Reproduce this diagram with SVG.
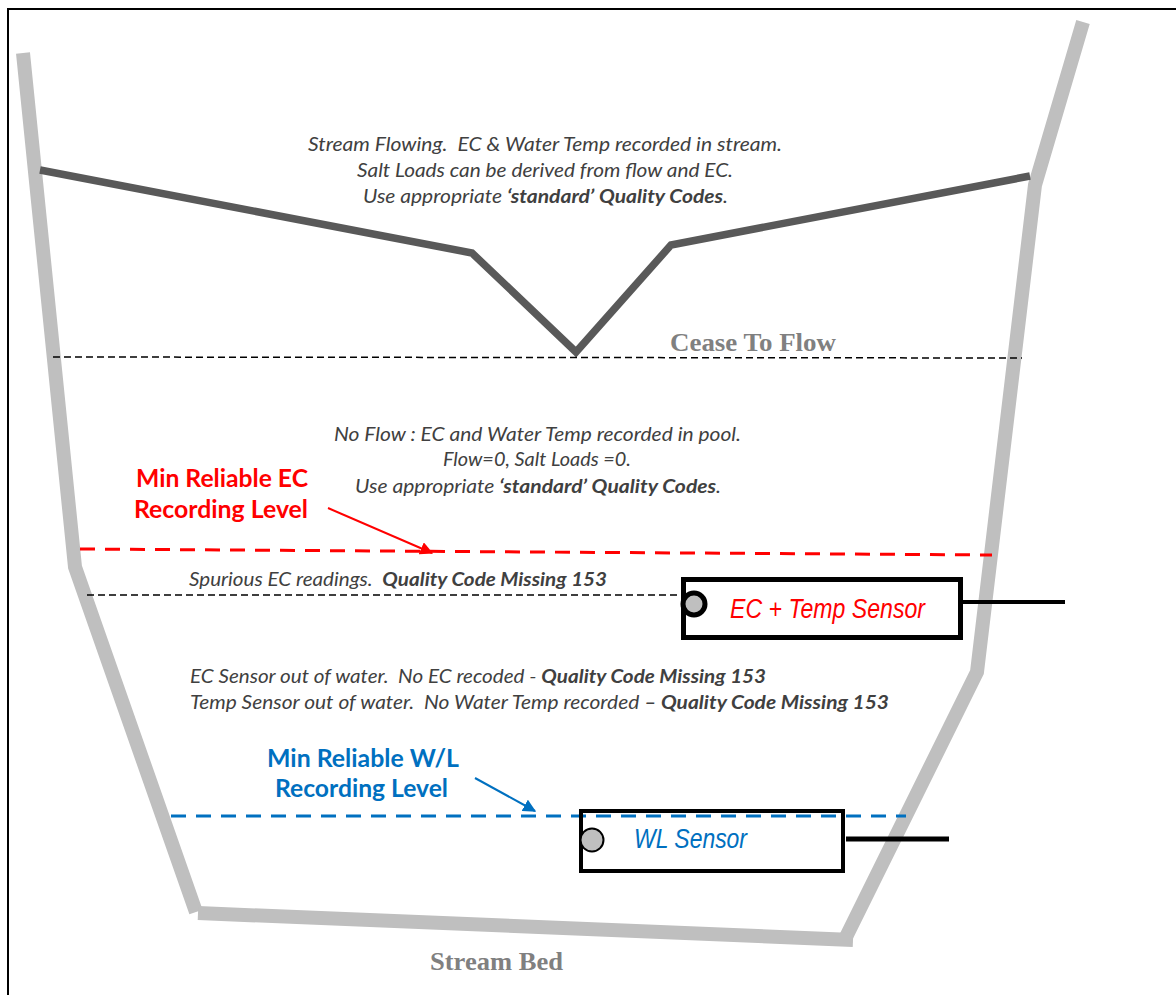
<svg xmlns="http://www.w3.org/2000/svg" width="1176" height="995" viewBox="0 0 1176 995">
<style>
.bank{fill:none;stroke:#BFBFBF;stroke-width:14;stroke-linejoin:miter;stroke-linecap:butt}
.note{font-family:Lato,"Open Sans","Liberation Sans",sans-serif;font-style:italic;font-size:19px;fill:#404040;white-space:pre}
.b{font-weight:bold}
.lvl{font-family:"Times New Roman","Liberation Serif",serif;font-weight:bold;font-size:25px;fill:#808080}
.lab{font-family:Lato,"Open Sans","Liberation Sans",sans-serif;font-weight:bold;font-size:25px}
.sens{font-family:"Liberation Sans Narrow","Liberation Sans",sans-serif;font-style:italic;font-size:27px}
.box{fill:none;stroke:#000;stroke-width:5}
</style>
<defs>
<marker id="ar" viewBox="0 0 10 10" refX="9" refY="5" markerWidth="13" markerHeight="13" markerUnits="userSpaceOnUse" orient="auto"><path d="M0,0 L10,5 L0,10 z" fill="#FF0000"/></marker>
<marker id="ab" viewBox="0 0 10 10" refX="9" refY="5" markerWidth="13" markerHeight="13" markerUnits="userSpaceOnUse" orient="auto"><path d="M0,0 L10,5 L0,10 z" fill="#0070C0"/></marker>
</defs>
<rect width="1176" height="995" fill="#fff"/>
<g id="frame">
<path d="M8,995 V9 H1176" fill="none" stroke="#000" stroke-width="2"/>
</g>
<g id="channel">
<polyline class="bank" points="23,53 75,567 196,912"/>
<polyline class="bank" points="1083,22 1035,185 977,672 846,937"/>
<line class="bank" x1="198" y1="913" x2="853" y2="940"/>
</g>
<g id="flow-surface">
<polyline points="40,170 472,253 576,352 671,245 1030,176" fill="none" stroke="#595959" stroke-width="7.5"/>
</g>
<g id="connectors">
<line x1="53" y1="357" x2="1022" y2="358" stroke="#000" stroke-width="1.5" stroke-dasharray="7 4"/>
<line x1="80" y1="549" x2="992" y2="555" stroke="#FF0000" stroke-width="3" stroke-dasharray="15 10"/>
<line x1="87" y1="595" x2="681" y2="595" stroke="#000" stroke-width="1.5" stroke-dasharray="7 4"/>
<line x1="171" y1="816" x2="906" y2="816" stroke="#0070C0" stroke-width="3" stroke-dasharray="15 10"/>
<line x1="328" y1="508" x2="432" y2="553" stroke="#FF0000" stroke-width="2" marker-end="url(#ar)"/>
<line x1="475" y1="778" x2="535" y2="811" stroke="#0070C0" stroke-width="2" marker-end="url(#ab)"/>
</g>
<g id="stream-flowing-note">
<text class="note" x="308" y="151" textLength="474" lengthAdjust="spacingAndGlyphs">Stream Flowing.  EC &amp; Water Temp recorded in stream.</text>
<text class="note" x="357" y="177" textLength="376" lengthAdjust="spacingAndGlyphs">Salt Loads can be derived from flow and EC.</text>
<text class="note" x="363" y="203" textLength="365" lengthAdjust="spacingAndGlyphs">Use appropriate <tspan class="b">‘standard’ Quality Codes</tspan>.</text>
</g>
<g id="cease-to-flow">
<text class="lvl" x="670" y="351" textLength="166" lengthAdjust="spacingAndGlyphs">Cease To Flow</text>
</g>
<g id="no-flow-note">
<text class="note" x="334" y="441" textLength="407" lengthAdjust="spacingAndGlyphs">No Flow : EC and Water Temp recorded in pool.</text>
<text class="note" x="443" y="466" textLength="188" lengthAdjust="spacingAndGlyphs">Flow=0, Salt Loads =0.</text>
<text class="note" x="355" y="493" textLength="366" lengthAdjust="spacingAndGlyphs">Use appropriate <tspan class="b">‘standard’ Quality Codes</tspan>.</text>
</g>
<g id="min-ec-label">
<text class="lab" fill="#FF0000" x="136" y="487" textLength="172" lengthAdjust="spacingAndGlyphs">Min Reliable EC</text>
<text class="lab" fill="#FF0000" x="134" y="518" textLength="174" lengthAdjust="spacingAndGlyphs">Recording Level</text>
</g>
<g id="spurious-note">
<text class="note" x="189" y="586" textLength="418" lengthAdjust="spacingAndGlyphs">Spurious EC readings.  <tspan class="b">Quality Code Missing 153</tspan></text>
</g>
<g id="ec-sensor">
<rect class="box" x="683.5" y="579.5" width="277" height="58"/>
<circle cx="694" cy="604" r="11" fill="#BFBFBF" stroke="#000" stroke-width="5"/>
<text class="sens" fill="#FF0000" x="730" y="618" textLength="195" lengthAdjust="spacingAndGlyphs">EC + Temp Sensor</text>
<line x1="963" y1="602" x2="1065" y2="602" stroke="#000" stroke-width="4"/>
</g>
<g id="out-of-water-note">
<text class="note" x="190" y="683" textLength="576" lengthAdjust="spacingAndGlyphs">EC Sensor out of water.  No EC recoded - <tspan class="b">Quality Code Missing 153</tspan></text>
<text class="note" x="190" y="709" textLength="699" lengthAdjust="spacingAndGlyphs">Temp Sensor out of water.  No Water Temp recorded <tspan class="b">– Quality Code Missing 153</tspan></text>
</g>
<g id="min-wl-label">
<text class="lab" fill="#0070C0" x="267" y="767" textLength="192" lengthAdjust="spacingAndGlyphs">Min Reliable W/L</text>
<text class="lab" fill="#0070C0" x="275" y="797" textLength="173" lengthAdjust="spacingAndGlyphs">Recording Level</text>
</g>
<g id="wl-sensor">
<rect x="581" y="811" width="262" height="60" fill="none" stroke="#000" stroke-width="4"/>
<circle cx="592" cy="840" r="11.5" fill="#BFBFBF" stroke="#000" stroke-width="2"/>
<text class="sens" fill="#0070C0" x="634" y="848" textLength="113" lengthAdjust="spacingAndGlyphs">WL Sensor</text>
<line x1="846" y1="839" x2="949" y2="839" stroke="#000" stroke-width="5"/>
</g>
<g id="stream-bed">
<text class="lvl" x="430" y="970" textLength="133" lengthAdjust="spacingAndGlyphs">Stream Bed</text>
</g>
</svg>
